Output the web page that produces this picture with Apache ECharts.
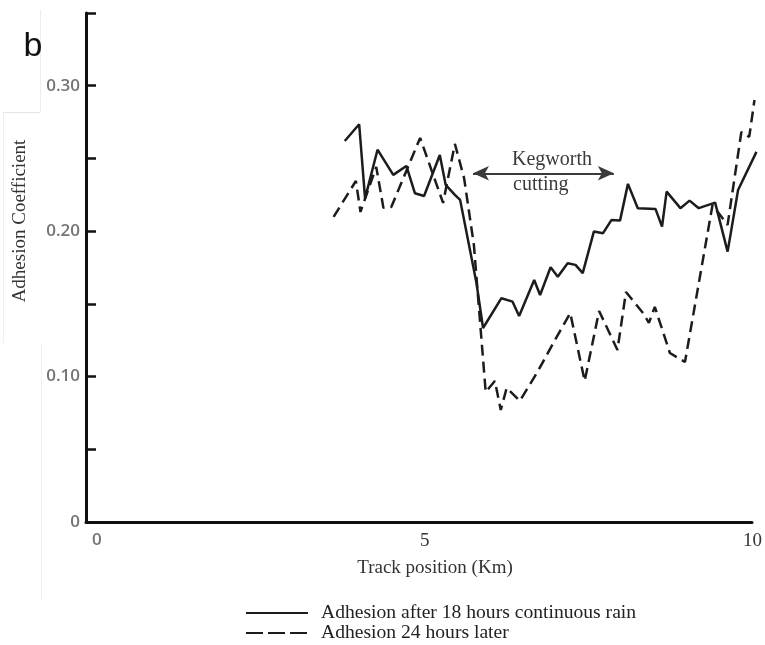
<!DOCTYPE html>
<html><head><meta charset="utf-8">
<script src="https://cdn.jsdelivr.net/npm/echarts@6/dist/echarts.min.js"></script>
<style>html,body{margin:0;padding:0;background:#fff}#c{width:765px;height:645px}</style>
</head><body><div id="c"></div>
<script>
const solidName = 'Adhesion after 18 hours continuous rain';
const dashedName = 'Adhesion 24 hours later';

// Track position (km)
const solidX = [3.78,4.00,4.09,4.28,4.52,4.72,4.85,4.99,5.23,5.32,5.46,5.54,5.79,5.89,6.17,6.34,6.44,6.67,6.76,6.92,7.03,7.18,7.30,7.41,7.58,7.72,7.85,7.98,8.10,8.25,8.52,8.62,8.69,8.90,9.04,9.18,9.43,9.62,9.67,9.78,10.06];
// Adhesion coefficient
const solidY = [0.262,0.2735,0.2225,0.256,0.2387,0.2448,0.2261,0.2242,0.2524,0.2318,0.2249,0.2215,0.1641,0.1334,0.1539,0.1515,0.1417,0.1664,0.1561,0.1752,0.1687,0.1779,0.1768,0.1711,0.1997,0.1986,0.2077,0.2074,0.2325,0.2158,0.2153,0.2031,0.2272,0.2158,0.2210,0.2158,0.2196,0.1859,0.199,0.2283,0.2545];

const dashedX = [3.61,3.95,4.02,4.26,4.37,4.49,4.93,5.28,5.46,5.60,5.75,5.93,6.07,6.16,6.25,6.45,6.72,6.97,7.22,7.44,7.66,7.94,8.07,8.33,8.42,8.51,8.74,8.97,9.39,9.62,9.83,9.95,10.03];
const dashedY = [0.2098,0.2345,0.2132,0.2442,0.2160,0.2166,0.2641,0.2194,0.2600,0.2366,0.1905,0.0894,0.0970,0.0770,0.0922,0.0832,0.1032,0.1238,0.1437,0.0970,0.1451,0.1183,0.1582,0.1437,0.1369,0.1479,0.1162,0.1100,0.2180,0.2043,0.2682,0.2648,0.2902];

const xTickValues = [0, 5, 10];
const xTickLabels = ['0', '5', '10'];
const yTickValues = [0, 0.05, 0.10, 0.15, 0.20, 0.25, 0.30, 0.35];
const yLabelValues = [0, 0.10, 0.20, 0.30];
const yLabelTexts = ['0', '0.10', '0.20', '0.30'];

// Kegworth cutting span (km) and height of the arrow
const cuttingStart = 5.736, cuttingEnd = 7.885, cuttingLevel = 0.2398;

const serif = '"Liberation Serif", "DejaVu Serif", serif';
const sans = '"Open Sans", "Noto Sans", sans-serif';

const chart = echarts.init(document.getElementById('c'), null, {renderer: 'canvas'});
const pairs = (xs, ys) => xs.map((x, i) => [x, ys[i]]);

chart.setOption({
  animation: false,
  backgroundColor: '#ffffff',
  grid: [
    {left: 86, top: 13, width: 666, height: 509},
    {left: 86, top: 13, width: 674, height: 509}
  ],
  xAxis: [
    {gridIndex: 0, type: 'value', min: -0.167, max: 9.94,
     axisLine: {show: true, onZero: false, lineStyle: {color: '#111', width: 3}},
     axisTick: {show: false}, axisLabel: {show: false}, splitLine: {show: false}},
    {gridIndex: 1, type: 'value', min: -0.167, max: 10.06,
     axisLine: {show: false, onZero: false}, axisTick: {show: false}, splitLine: {show: false},
     axisLabel: {
       customValues: xTickValues, margin: 10,
       formatter: v => { const t = xTickLabels[xTickValues.indexOf(v)]; return v === 0 ? '{g|' + t + '}' : '{s|' + t + '}'; },
       rich: {
         g: {fontFamily: sans, fontSize: 17, fontWeight: 600, color: '#747474'},
         s: {fontFamily: serif, fontSize: 19, color: '#333'}
       }
     }}
  ],
  yAxis: [
    {gridIndex: 0, type: 'value', min: 0, max: 0.35, interval: 0.05,
     axisLine: {show: true, onZero: false, lineStyle: {color: '#111', width: 3}},
     axisTick: {show: true, inside: true, length: 10, customValues: yTickValues, lineStyle: {color: '#111', width: 2.5}},
     axisLabel: {customValues: yLabelValues, margin: 6,
       formatter: v => yLabelTexts[yLabelValues.findIndex(a => Math.abs(a - v) < 1e-9)],
       fontFamily: sans, fontSize: 17, fontWeight: 600, color: '#747474'},
     splitLine: {show: false}},
    {gridIndex: 1, type: 'value', min: 0, max: 0.35, show: false, axisLine: {onZero: false}}
  ],
  legend: {
    left: 245, top: 603, height: 80, padding: 0, orient: 'vertical', itemWidth: 62, itemHeight: 12, itemGap: 0,
    itemStyle: {opacity: 0},
    textStyle: {fontFamily: serif, fontSize: 19.6, color: '#222', padding: [0, 0, 0, 8]},
    data: [
      {name: solidName},
      {name: dashedName, lineStyle: {type: [17, 5]}}
    ]
  },
  series: [
    {name: solidName, type: 'line', xAxisIndex: 1, yAxisIndex: 1, symbol: 'none', clip: false,
     data: pairs(solidX, solidY),
     lineStyle: {color: '#1c1c1c', width: 2.5},
     itemStyle: {color: '#1c1c1c'},
     markLine: {
       silent: true, symbol: ['arrow', 'arrow'], symbolSize: [11, 16],
       label: {show: false},
       lineStyle: {color: '#3a3a3a', width: 2, type: 'solid'},
       data: [[{coord: [cuttingStart, cuttingLevel]}, {coord: [cuttingEnd, cuttingLevel]}]]
     }},
    {name: dashedName, type: 'line', xAxisIndex: 1, yAxisIndex: 1, symbol: 'none', clip: false,
     data: pairs(dashedX, dashedY),
     lineStyle: {color: '#1c1c1c', width: 2.5, type: [11, 6]},
     itemStyle: {color: '#1c1c1c'}}
  ],
  graphic: [
    {type: 'line', shape: {x1: 3, y1: 112.5, x2: 40, y2: 112.5}, style: {stroke: '#e4e4e4', lineWidth: 1}, silent: true},
    {type: 'line', shape: {x1: 40.5, y1: 10, x2: 40.5, y2: 112}, style: {stroke: '#eeeeee', lineWidth: 1}, silent: true},
    {type: 'line', shape: {x1: 3.5, y1: 113, x2: 3.5, y2: 343}, style: {stroke: '#f0f0f0', lineWidth: 1}, silent: true},
    {type: 'line', shape: {x1: 41.5, y1: 343, x2: 41.5, y2: 600}, style: {stroke: '#f0f0f0', lineWidth: 1}, silent: true},
    {type: 'text', x: 33, y: 47, silent: true,
     style: {text: 'b', font: '34px "Liberation Sans", Arial, sans-serif', fill: '#111', textAlign: 'center', textVerticalAlign: 'middle'}},
    {type: 'text', x: 20, y: 221, rotation: Math.PI / 2, silent: true,
     style: {text: 'Adhesion Coefficient', font: '19px ' + serif, fill: '#333', textAlign: 'center', textVerticalAlign: 'middle'}},
    {type: 'text', x: 435, y: 568, silent: true,
     style: {text: 'Track position (Km)', font: '19px ' + serif, fill: '#333', textAlign: 'center', textVerticalAlign: 'middle'}},
    {type: 'text', x: 512, y: 160, silent: true,
     style: {text: 'Kegworth', font: '20px ' + serif, fill: '#3a3a3a', textAlign: 'left', textVerticalAlign: 'middle'}},
    {type: 'text', x: 513, y: 185, silent: true,
     style: {text: 'cutting', font: '20px ' + serif, fill: '#3a3a3a', textAlign: 'left', textVerticalAlign: 'middle'}}
  ]
});
</script>
</body></html>
